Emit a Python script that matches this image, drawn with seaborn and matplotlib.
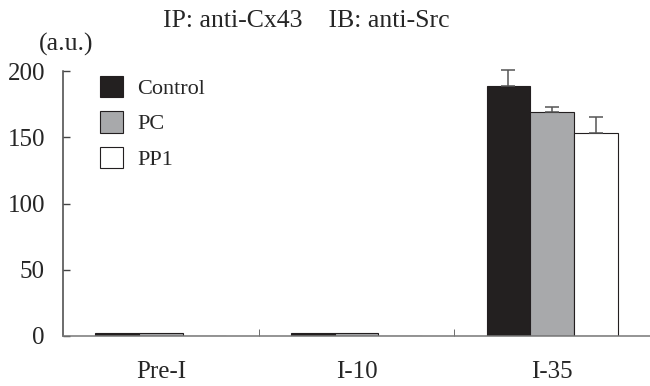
import numpy as np
import pandas as pd
import matplotlib
matplotlib.use('Agg')
import matplotlib.pyplot as plt
import seaborn as sns

# data
groups = ['Pre-I', 'I-10', 'I-35']
treatments = ['Control', 'PC', 'PP1']
control = [2.5, 2.5, 189]
pc = [2.5, 2.5, 169]
pp1 = [0, 0, 153]
control_err = [0, 0, 12]
pc_err = [0, 0, 3.5]
pp1_err = [0, 0, 12]
colors = ['#231f20', '#a7a9ac', '#ffffff']

rows = []
for i, g in enumerate(groups):
    for t, v, e in zip(treatments, [control, pc, pp1], [control_err, pc_err, pp1_err]):
        rows.append({'group': g, 'treatment': t, 'value': v[i], 'err': e[i]})
df = pd.DataFrame(rows)

sns.set_style('white')
plt.rcParams['font.family'] = ['Liberation Serif', 'DejaVu Serif']

fig = plt.figure(figsize=(6.5, 3.86), dpi=100)
ax = fig.add_axes([63/650, 1 - 336/386, 1 - 63/650, (336 - 71)/386])

sns.barplot(data=df, x='group', y='value', hue='treatment', palette=colors,
            width=0.67, edgecolor='#231f20', linewidth=0.8, errorbar=None, ax=ax)

# one-sided error bars on top of each bar
for bars, t in zip(ax.containers, treatments):
    sub = df[df.treatment == t]
    for rect, v, e in zip(bars, sub.value, sub.err):
        if e > 0:
            xc = rect.get_x() + rect.get_width() / 2
            eb = ax.errorbar(xc, v, yerr=[[0], [e]], fmt='none', ecolor='#555555',
                             elinewidth=1.1, capsize=5, capthick=1.1)
            for art in eb.lines[1] + eb.lines[2]:
                art.set_clip_on(False)

ax.set_ylim(0, 200)
ax.set_xlim(-0.5, 2.5)
ax.set_yticks([0, 50, 100, 150, 200])
ax.set_xlabel('')
ax.set_ylabel('')
ax.tick_params(axis='y', labelsize=18, length=5, width=1, direction='in', left=True,
               color='#444444', pad=13)
ax.tick_params(axis='x', labelsize=18, length=0, pad=18)
ax.set_xticks([0.5, 1.5], minor=True)
ax.tick_params(axis='x', which='minor', length=5, direction='in', bottom=True, color='#555555')
for s in ['top', 'right']:
    ax.spines[s].set_visible(False)
ax.spines['left'].set_color('#444444')
ax.spines['bottom'].set_color('#777777')
ax.spines['left'].set_linewidth(1.1)
ax.spines['bottom'].set_linewidth(1.1)

leg = ax.legend(loc='upper left', bbox_to_anchor=(37/587, 0.982), frameon=False,
                fontsize=16, handlelength=1.04, handleheight=1.1, labelspacing=0.55,
                handletextpad=0.63, borderpad=0, borderaxespad=0)

fig.text(163/650, 1 - 27/386, 'IP: anti-Cx43    IB: anti-Src', fontsize=18.5, va='baseline')
fig.text(39/650, 1 - 51/386, '(a.u.)', fontsize=18.5, va='baseline')

fig.savefig('out.png', dpi=100)
